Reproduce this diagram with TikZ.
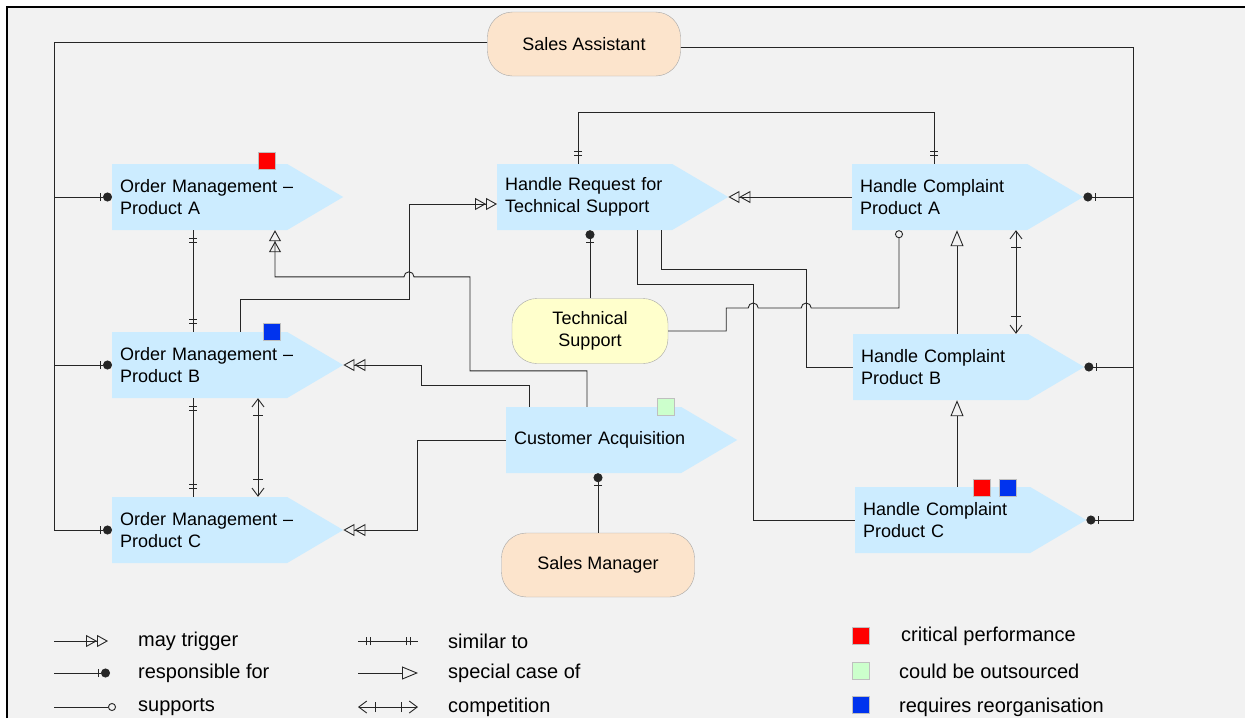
\documentclass[tikz,border=0pt]{standalone}
\usepackage{fontspec}
\setmainfont{Liberation Sans}
\usetikzlibrary{arrows.meta, decorations.markings}
\definecolor{procblue}{RGB}{204,236,255}
\definecolor{rolepeach}{RGB}{252,228,204}
\definecolor{roleyellow}{RGB}{255,255,204}
\definecolor{bggray}{RGB}{242,242,242}
\definecolor{critred}{RGB}{255,0,0}
\definecolor{outgreen}{RGB}{204,255,204}
\definecolor{reorgblue}{RGB}{0,51,238}
\newcommand\barmark[1]{\draw[-, black!85, line width=0.9pt] (0,-#1) -- (0,#1);}

\begin{document}
\begin{tikzpicture}[x=1pt, y=-1pt,
  process/.style={anchor=west, text width=215pt, align=left, inner xsep=8pt, inner ysep=0pt,
    minimum height=66pt, font=\fontsize{18}{22}\selectfont,
    path picture={\fill[procblue] (path picture bounding box.north west)
      -- ([xshift=-56pt]path picture bounding box.north east) -- (path picture bounding box.east)
      -- ([xshift=-56pt]path picture bounding box.south east) -- (path picture bounding box.south west) -- cycle;}},
  role/.style={draw=black!35, rounded corners=25pt, minimum width=193pt, minimum height=64pt,
    align=center, font=\fontsize{18}{22}\selectfont},
  flag/.style={draw=black!25, line width=0.8pt, minimum size=17pt, inner sep=0pt},
  legend/.style={anchor=west, inner sep=0pt, font=\fontsize{20}{24}\selectfont},
  conn/.style={draw=black!85, line width=0.9pt},
  trig/.style={conn, -{Triangle[open,length=11pt,width=12pt]Triangle[open,length=11pt,width=12pt]}},
  resp/.style={conn, -{Circle[length=9pt]}, postaction={decorate},
    decoration={markings, mark=at position -12pt with {\barmark{4pt}}}},
  supp/.style={conn, -{Circle[open,length=8pt]}},
  spec/.style={conn, -{Triangle[open,length=16pt,width=13pt]}},
  sim/.style={conn, postaction={decorate},
    decoration={markings, mark=at position 8pt with {\barmark{4pt}}, mark=at position 12pt with {\barmark{4pt}},
      mark=at position -8pt with {\barmark{4pt}}, mark=at position -12pt with {\barmark{4pt}}}},
  comp/.style={conn, {Straight Barb[length=8pt,width=12pt]}-{Straight Barb[length=8pt,width=12pt]}, postaction={decorate},
    decoration={markings, mark=at position 17pt with {\barmark{5pt}}, mark=at position -17pt with {\barmark{5pt}}}}
]
\useasboundingbox (0,0) rectangle (1245,718);
\fill[bggray] (8,8) rectangle (1245,718);
\draw[line width=2.5pt] (7,718) -- (7,7) -- (1245,7);

\node[role, fill=rolepeach] (sa) at (584,44) {Sales Assistant};
\node[role, fill=roleyellow, minimum width=156pt, minimum height=65pt] (ts) at (590,331) {Technical\\Support};
\node[role, fill=rolepeach] (sm) at (598,565) {Sales Manager};

\node[process] (oma) at (112,197) {Order~Management~–\\Product~A};
\node[process] (omb) at (112,365) {Order~Management~–\\Product~B};
\node[process] (omc) at (112,530) {Order~Management~–\\Product~C};
\node[process] (hrts) at (497,197) {Handle Request for\\Technical Support};
\node[process] (hca) at (852,197) {Handle Complaint\\Product A};
\node[process] (hcb) at (853,367) {Handle Complaint\\Product B};
\node[process] (hcc) at (855,520) {Handle Complaint\\Product C};
\node[process] (ca) at (506,440) {Customer Acquisition};

\node[flag, fill=critred] (oma-crit) at (266.5,161) {};
\node[flag, fill=reorgblue] (omb-reorg) at (272,331.5) {};
\node[flag, fill=outgreen] (ca-out) at (666,406.5) {};
\node[flag, fill=critred] (hcc-crit) at (981.5,488) {};
\node[flag, fill=reorgblue] (hcc-reorg) at (1007.5,488) {};

\draw[resp] ([yshift=2pt]sa.west) -| ([xshift=-58pt]oma.west) -- (oma.west);
\draw[resp] ([yshift=2pt]sa.west) -| ([xshift=-58pt]omb.west) -- (omb.west);
\draw[resp] ([yshift=2pt]sa.west) -| ([xshift=-58pt]omc.west) -- (omc.west);
\draw[resp] ([yshift=-3pt]sa.east) -| ([xshift=50pt]hca.east) -- (hca.east);
\draw[resp] ([yshift=-3pt]sa.east) -| ([xshift=49pt]hcb.east) -- (hcb.east);
\draw[resp] ([yshift=-3pt]sa.east) -| ([xshift=47pt]hcc.east) -- (hcc.east);
\draw[resp] (ts.north) -- (ts.north |- hrts.south);
\draw[resp] (sm.north) -- (sm.north |- ca.south);

\draw[sim] ([xshift=81pt]hrts.north west) -- ++(0,-51) -| ([xshift=82pt]hca.north west);
\draw[sim] ([xshift=81pt]oma.south west) -- ([xshift=81pt]omb.north west);
\draw[sim] ([xshift=81pt]omb.south west) -- ([xshift=81pt]omc.north west);

\draw[comp] ([xshift=146pt]omb.south west) -- ([xshift=146pt]omc.north west);
\draw[comp] ([xshift=164pt]hca.south west) -- ([xshift=163pt]hcb.north west);

\draw[spec] ([xshift=104pt]hcb.north west) -- ([xshift=105pt]hca.south west);
\draw[spec] ([xshift=102pt]hcc.north west) -- ([xshift=104pt]hcb.south west);

\draw[trig] ([xshift=81pt]ca.north west) -- ++(0,-36) -- ++(-117,0) -- ++(0,-94) -- ++(-56,0)
  arc (0:-180:5) -| ([xshift=163pt]oma.south west);
\draw[trig] ([xshift=23pt]ca.north west) -- ++(0,-21) -- ++(-108,0) |- (omb.east);
\draw[trig] (ca.west) -- ++(-89,0) |- (omc.east);
\draw[trig] ([xshift=128pt]omb.north west) -- ++(0,-32) -- ++(169,0) |- ([yshift=-7pt]hrts.west);
\draw[trig] (hca.west) -- (hrts.east);

\draw[supp] (ts.east) -- ++(58,0) -- ++(0,-23) -- ++(22,0) arc (180:360:5) -- ++(43,0) arc (180:360:5)
  -| ([xshift=47pt]hca.south west);
\draw[conn] ([xshift=164pt]hrts.south west) -- ++(0,39) -- ++(145,0) |- (hcb.west);
\draw[conn] ([xshift=140pt]hrts.south west) -- ++(0,54) -- ++(116,0) |- (hcc.west);

\node[legend] (lg-trig) at (138,641) {may trigger};
\node[legend] (lg-resp) at (138,673) {responsible for};
\node[legend] (lg-supp) at (138,707) {supports};
\node[legend] (lg-sim) at (448,641) {similar to};
\node[legend] (lg-spec) at (448,673) {special case of};
\node[legend] (lg-comp) at (448,707) {competition};
\draw[trig] ([xshift=-84pt]lg-trig.west) -- ([xshift=-30pt]lg-trig.west);
\draw[resp] ([xshift=-84pt]lg-resp.west) -- ([xshift=-28pt]lg-resp.west);
\draw[supp] ([xshift=-84pt]lg-supp.west) -- ([xshift=-22pt]lg-supp.west);
\draw[sim] ([xshift=-90pt]lg-sim.west) -- ([xshift=-30pt]lg-sim.west);
\draw[spec] ([xshift=-90pt]lg-spec.west) -- ([xshift=-30pt]lg-spec.west);
\draw[comp] ([xshift=-90pt]lg-comp.west) -- ([xshift=-30pt]lg-comp.west);

\node[flag, fill=critred] (lg-crit) at (860.5,635.5) {};
\node[flag, fill=outgreen] (lg-out) at (860.5,670.5) {};
\node[flag, fill=reorgblue] (lg-reorg) at (860.5,704.5) {};
\node[legend] (lg-crit-text) at (901,636) {critical performance};
\node[legend] (lg-out-text) at (899,671) {could be outsourced};
\node[legend] (lg-reorg-text) at (899,707) {requires reorganisation};
\end{tikzpicture}
\end{document}
